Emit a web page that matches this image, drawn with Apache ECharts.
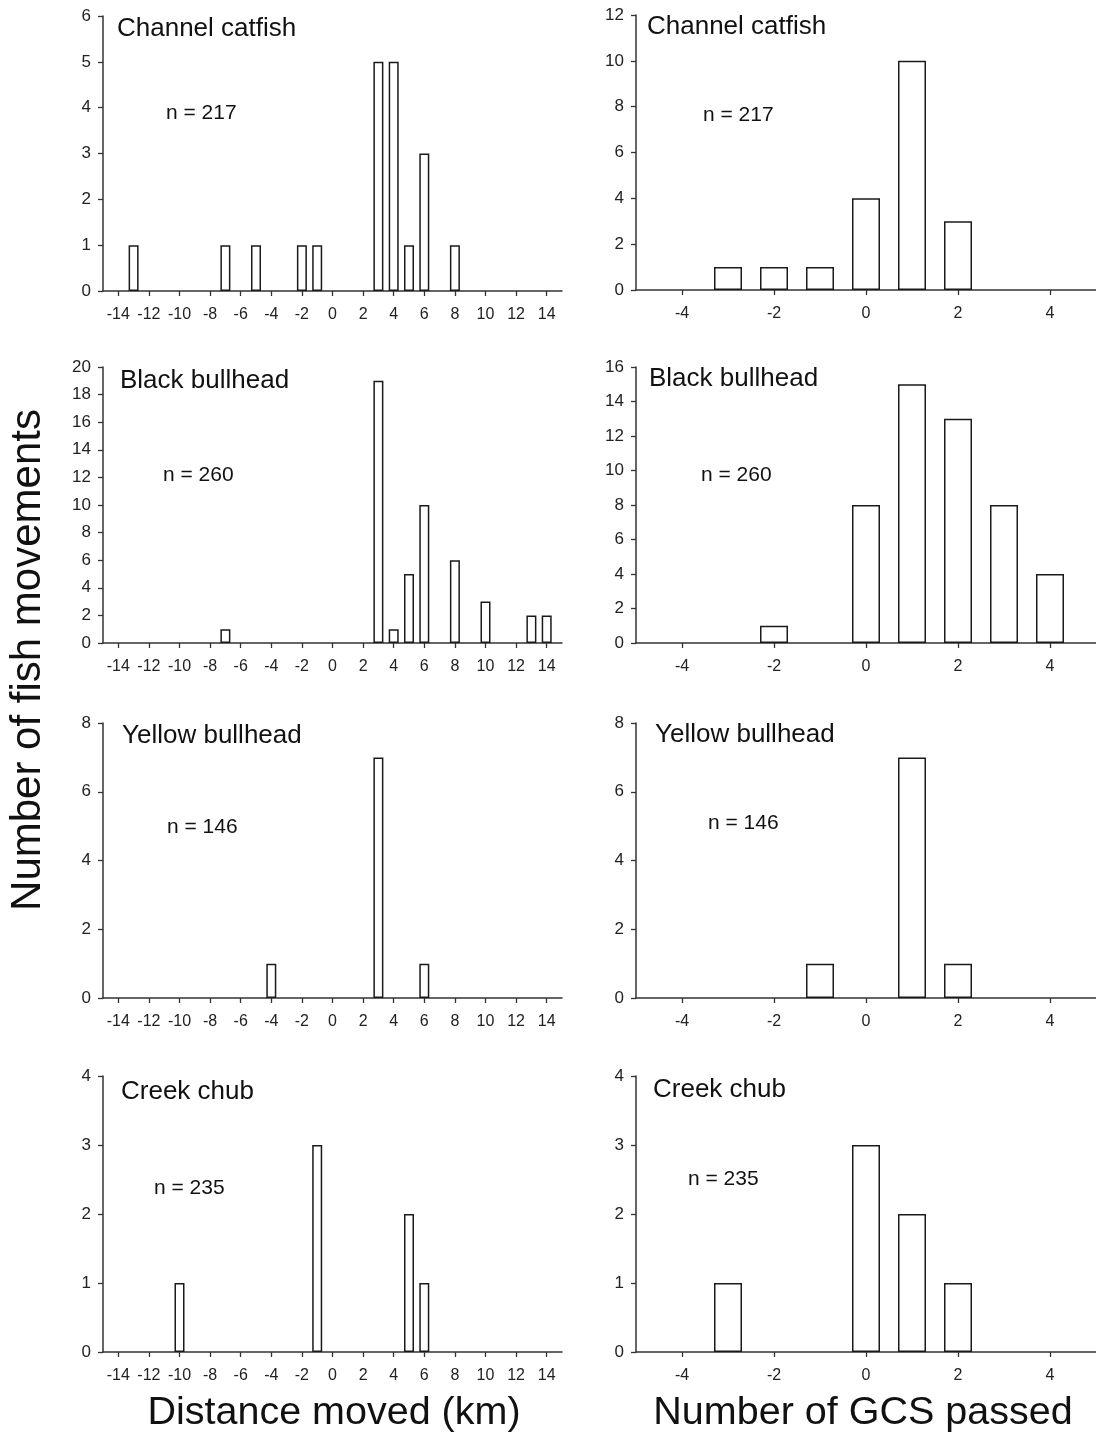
<!DOCTYPE html>
<html>
<head>
<meta charset="utf-8">
<script src="https://cdn.jsdelivr.net/npm/echarts@6/dist/echarts.min.js"></script>
<style>
html,body{margin:0;padding:0;background:#fff;}
#c{width:1096px;height:1435px;}
</style>
</head>
<body>
<div id="c"></div>
<script>
// ---- data ----
const speciesNames = ['Channel catfish', 'Black bullhead', 'Yellow bullhead', 'Creek chub'];
const sampleSizes = [217, 260, 146, 235];

// Distance moved (km)
const catfishDistX = [-13, -7, -5, -2, -1, 3, 4, 5, 6, 8];
const catfishDistN = [1, 1, 1, 1, 1, 5, 5, 1, 3, 1];
const blackDistX = [-7, 3, 4, 5, 6, 8, 10, 13, 14];
const blackDistN = [1, 19, 1, 5, 10, 6, 3, 2, 2];
const yellowDistX = [-4, 3, 6];
const yellowDistN = [1, 7, 1];
const chubDistX = [-10, -1, 5, 6];
const chubDistN = [1, 3, 2, 1];

// Number of GCS passed
const catfishGcsX = [-3, -2, -1, 0, 1, 2];
const catfishGcsN = [1, 1, 1, 4, 10, 3];
const blackGcsX = [-2, 0, 1, 2, 3, 4];
const blackGcsN = [1, 8, 15, 13, 8, 4];
const yellowGcsX = [-1, 1, 2];
const yellowGcsN = [1, 7, 1];
const chubGcsX = [-3, 0, 1, 2];
const chubGcsN = [1, 3, 2, 1];

// axis ticks
const distTicks = [-14, -12, -10, -8, -6, -4, -2, 0, 2, 4, 6, 8, 10, 12, 14];
const gcsTicks = [-4, -2, 0, 2, 4];
const distYMax = [6, 20, 8, 4];
const distYStep = [1, 2, 2, 1];
const gcsYMax = [12, 16, 8, 4];
const gcsYStep = [2, 2, 2, 1];

const distXs = [catfishDistX, blackDistX, yellowDistX, chubDistX];
const distNs = [catfishDistN, blackDistN, yellowDistN, chubDistN];
const gcsXs = [catfishGcsX, blackGcsX, yellowGcsX, chubGcsX];
const gcsNs = [catfishGcsN, blackGcsN, yellowGcsN, chubGcsN];

// ---- layout ----
const FONT = '"Liberation Sans", Arial, Helvetica, sans-serif';
const AX = '#333';
const leftRows = [[16, 291], [367, 643], [723, 998], [1076, 1352]];
const rightRows = [[15, 290], [367, 643], [723, 998], [1076, 1352]];
const leftTitlePos = [[117, 29, 166, 113], [120, 381, 163, 475], [122, 736, 167, 827], [121, 1092, 154, 1188]];
const rightTitlePos = [[647, 27, 703, 115], [649, 379, 701, 475], [655, 735, 708, 823], [653, 1090, 688, 1179]];

const grids = [], xAxes = [], yAxes = [], series = [], graphics = [];

function addPanel(idx, left, width, rows, xMin, xMax, ticks, yMax, yStep, xs, ns, barW) {
  grids.push({ left: left, width: width, top: rows[0], height: rows[1] - rows[0] });
  xAxes.push({
    type: 'value', gridIndex: idx, min: xMin, max: xMax,
    axisLine: { show: true, onZero: false, lineStyle: { color: AX, width: 1.5 } },
    axisTick: { show: true, inside: false, length: 5, customValues: ticks, lineStyle: { color: AX, width: 1.3 } },
    axisLabel: { show: true, customValues: ticks, margin: 16, fontSize: 16, color: '#222', fontFamily: FONT },
    splitLine: { show: false }
  });
  yAxes.push({
    type: 'value', gridIndex: idx, min: 0, max: yMax, interval: yStep,
    axisLine: { show: true, onZero: false, lineStyle: { color: AX, width: 1.5 } },
    axisTick: { show: true, inside: false, length: 5, lineStyle: { color: AX, width: 1.3 } },
    axisLabel: { show: true, margin: 12, fontSize: 17, color: '#222', fontFamily: FONT },
    splitLine: { show: false }
  });
  series.push({
    type: 'bar', xAxisIndex: idx, yAxisIndex: idx, barWidth: barW,
    data: xs.map((x, i) => [x, ns[i]]),
    itemStyle: { color: '#fff', borderColor: '#1a1a1a', borderWidth: 1.5 },
    silent: true, animation: false
  });
}

for (let r = 0; r < 4; r++) {
  addPanel(2 * r, 103, 459, leftRows[r], -15, 15, distTicks, distYMax[r], distYStep[r], distXs[r], distNs[r], 10);
  addPanel(2 * r + 1, 636, 460, rightRows[r], -5, 5, gcsTicks, gcsYMax[r], gcsYStep[r], gcsXs[r], gcsNs[r], 28);
  [leftTitlePos[r], rightTitlePos[r]].forEach(p => {
    graphics.push({ type: 'text', x: p[0], y: p[1], style: { text: speciesNames[r], font: '26px ' + FONT, fill: '#111', textVerticalAlign: 'middle', textAlign: 'left' } });
    graphics.push({ type: 'text', x: p[2], y: p[3], style: { text: 'n = ' + sampleSizes[r], font: '21px ' + FONT, fill: '#111', textVerticalAlign: 'middle', textAlign: 'left' } });
  });
}

graphics.push({ type: 'text', x: 334, y: 1413, style: { text: 'Distance moved (km)', font: '39.5px ' + FONT, fill: '#111', textAlign: 'center', textVerticalAlign: 'middle' } });
graphics.push({ type: 'text', x: 863, y: 1413, style: { text: 'Number of GCS passed', font: '39.5px ' + FONT, fill: '#111', textAlign: 'center', textVerticalAlign: 'middle' } });
graphics.push({ type: 'text', x: 28, y: 660, rotation: Math.PI / 2, style: { text: 'Number of fish movements', font: '42px ' + FONT, fill: '#111', textAlign: 'center', textVerticalAlign: 'middle' } });

const chart = echarts.init(document.getElementById('c'), null, { renderer: 'canvas' });
chart.setOption({
  backgroundColor: '#fff',
  animation: false,
  grid: grids,
  xAxis: xAxes,
  yAxis: yAxes,
  series: series,
  graphic: graphics
});
</script>
</body>
</html>
